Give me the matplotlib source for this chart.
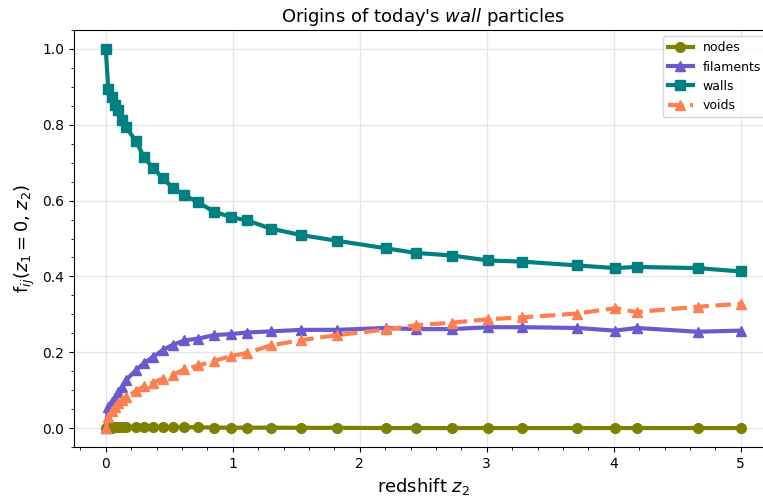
import numpy as np
import matplotlib
matplotlib.use("Agg")
import matplotlib.pyplot as plt

# redshift snapshots z2
redshift = [0.0, 0.02, 0.05, 0.07, 0.10, 0.13, 0.16, 0.24, 0.30, 0.37, 0.45, 0.53,
            0.62, 0.73, 0.85, 0.99, 1.11, 1.30, 1.54, 1.82, 2.21, 2.44, 2.73,
            3.01, 3.28, 3.71, 4.01, 4.18, 4.66, 5.00]

# fraction of today's wall particles found in each environment at z2
nodes = [0.0, 0.001, 0.001, 0.0015, 0.002, 0.002, 0.002, 0.0025, 0.003, 0.003,
         0.003, 0.002, 0.002, 0.002, 0.001, 0.001, 0.001, 0.001, 0.0005, 0.0005,
         0.0, 0.0, 0.0, 0.0, 0.0, 0.0, 0.0, 0.0, 0.0, 0.0]
filaments = [0.0, 0.056, 0.070, 0.080, 0.096, 0.109, 0.127, 0.153, 0.171, 0.187,
             0.206, 0.220, 0.231, 0.236, 0.245, 0.248, 0.252, 0.255, 0.259, 0.259,
             0.264, 0.261, 0.261, 0.266, 0.266, 0.264, 0.257, 0.264, 0.254, 0.257]
walls = [1.0, 0.894, 0.872, 0.852, 0.839, 0.813, 0.793, 0.756, 0.715, 0.687,
         0.659, 0.633, 0.614, 0.595, 0.571, 0.556, 0.548, 0.526, 0.509, 0.494,
         0.474, 0.462, 0.455, 0.442, 0.439, 0.429, 0.422, 0.425, 0.422, 0.413]
voids = [0.0, 0.030, 0.045, 0.055, 0.065, 0.075, 0.082, 0.098, 0.110, 0.120,
         0.130, 0.141, 0.155, 0.165, 0.177, 0.190, 0.198, 0.218, 0.232, 0.245,
         0.260, 0.271, 0.278, 0.287, 0.292, 0.302, 0.316, 0.306, 0.320, 0.328]

fig = plt.figure(figsize=(7.63, 4.99), dpi=100)
ax = fig.add_axes([74 / 763, 52 / 499, 698.5 / 763, 417 / 499])

ax.plot(redshift, nodes, color="olive", marker="o", lw=3, ms=7, label="nodes")
ax.plot(redshift, filaments, color="slateblue", marker="^", lw=3, ms=7, label="filaments")
ax.plot(redshift, walls, color="teal", marker="s", lw=3, ms=7, label="walls")
ax.plot(redshift, voids, color="coral", marker="^", lw=3, ms=7, ls="--", label="voids")

ax.set_xlim(-0.25, 5.25)
ax.set_ylim(-0.05, 1.05)
ax.minorticks_on()
ax.grid(True, which="major", color="#e6e6e6", lw=1)
ax.set_axisbelow(True)
for side in ["right"]:
    ax.spines[side].set_visible(False)

ax.set_title(r"Origins of today's $\mathit{wall}$ particles", fontsize=13)
ax.set_xlabel(r"redshift $z_2$", fontsize=13)
ax.set_ylabel(r"f$_{ij}$($z_1 = 0$, $z_2$)", fontsize=13)
ax.tick_params(labelsize=10)
ax.legend(loc="upper right", fontsize=9, bbox_to_anchor=(1.0, 1.0))

fig.savefig("out.png", dpi=100)
